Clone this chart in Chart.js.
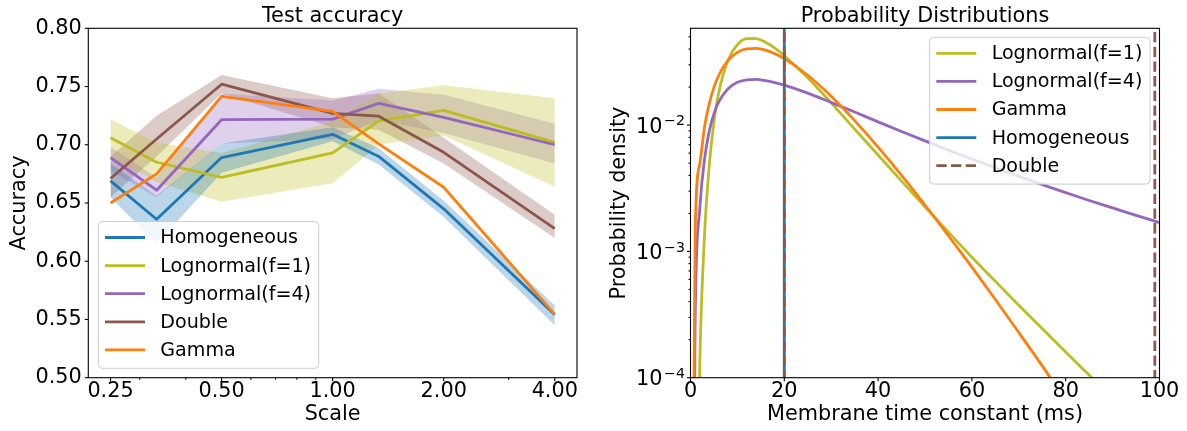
<!DOCTYPE html>
<html>
<head>
<meta charset="utf-8">
<script src="https://cdn.jsdelivr.net/npm/chart.js"></script>
<style>
html, body { margin: 0; padding: 0; background: #ffffff; }
#wrap { position: relative; width: 1187px; height: 431px; overflow: hidden; }
#c1 { position: absolute; left: 0; top: 0; width: 593px; height: 431px; }
#c2 { position: absolute; left: 593px; top: 0; width: 594px; height: 431px; }
</style>
</head>
<body>
<div id="wrap">
  <canvas id="c1" width="593" height="431"></canvas>
  <canvas id="c2" width="594" height="431"></canvas>
</div>
<script>
// ---------------- Left panel: Test accuracy ----------------
const scales = [0.25, 0.3333, 0.5, 1.0, 1.3333, 2.0, 4.0];
const homMean = [0.669, 0.636, 0.689, 0.709, 0.690, 0.645, 0.554];
const homLo   = [0.655, 0.615, 0.676, 0.703, 0.683, 0.638, 0.545];
const homHi   = [0.684, 0.656, 0.701, 0.715, 0.697, 0.652, 0.562];
const ln1Mean = [0.706, 0.685, 0.672, 0.693, 0.7205, 0.7295, 0.702];
const ln1Lo   = [0.690, 0.668, 0.651, 0.667, 0.700, 0.708, 0.664];
const ln1Hi   = [0.722, 0.702, 0.693, 0.720, 0.744, 0.751, 0.740];
const ln4Mean = [0.689, 0.661, 0.7215, 0.722, 0.7355, 0.7235, 0.700];
const ln4Lo   = [0.678, 0.655, 0.701, 0.705, 0.721, 0.710, 0.684];
const ln4Hi   = [0.698, 0.672, 0.744, 0.738, 0.748, 0.743, 0.718];
const dblMean = [0.671, 0.705, 0.752, 0.727, 0.7245, 0.6935, 0.628];
const dblLo   = [0.655, 0.690, 0.744, 0.715, 0.713, 0.684, 0.620];
const dblHi   = [0.690, 0.725, 0.760, 0.740, 0.744, 0.706, 0.640];
const gamMean = [0.650, 0.675, 0.7415, 0.7287, 0.7007, 0.6635, 0.5544];
const accTicks = [0.50, 0.55, 0.60, 0.65, 0.70, 0.75, 0.80];
const scaleTicks = [0.25, 0.5, 1, 2, 4];
const scaleMinorTicks = [0.3, 0.4, 0.6, 0.7, 0.8, 0.9, 3];
const leftTitle = 'Test accuracy';
const leftXLabel = 'Scale';
const leftYLabel = 'Accuracy';

// ---------------- Right panel: Probability Distributions ----------------
const tau = [0, 1, 2, 3, 4, 5, 6, 8, 10, 12, 14, 16, 18, 20, 25, 30, 35, 40, 45, 50, 55, 60, 65, 70, 75, 80, 85, 90, 95, 100];
const pdfLn1 = [1e-8, 9e-7, 1.4e-4, 1.37e-3, 4.8e-3, 1.06e-2, 1.79e-2, 3.26e-2, 4.33e-2, 4.83e-2, 4.84e-2, 4.52e-2, 4.06e-2, 3.54e-2, 2.37e-2, 1.5e-2, 9.3e-3, 5.8e-3, 3.6e-3, 2.25e-3, 1.42e-3, 9.0e-4, 5.8e-4, 3.75e-4, 2.45e-4, 1.6e-4, 1.05e-4, 7.0e-5, 4.7e-5, 3.2e-5];
const pdfLn4 = [1e-8, 3.0e-4, 2.23e-3, 5.4e-3, 8.95e-3, 1.23e-2, 1.52e-2, 1.94e-2, 2.18e-2, 2.28e-2, 2.30e-2, 2.25e-2, 2.17e-2, 2.07e-2, 1.79e-2, 1.51e-2, 1.27e-2, 1.06e-2, 8.9e-3, 7.5e-3, 6.34e-3, 5.38e-3, 4.59e-3, 3.93e-3, 3.38e-3, 2.92e-3, 2.53e-3, 2.21e-3, 1.93e-3, 1.69e-3];
const pdfGamma = [1e-8, 1.45e-3, 5.0e-3, 9.7e-3, 1.48e-2, 1.99e-2, 2.47e-2, 3.25e-2, 3.77e-2, 4.02e-2, 4.05e-2, 3.92e-2, 3.67e-2, 3.36e-2, 2.48e-2, 1.69e-2, 1.085e-2, 6.7e-3, 4.0e-3, 2.33e-3, 1.33e-3, 7.5e-4, 4.16e-4, 2.28e-4, 1.24e-4, 6.6e-5, 3.5e-5, 1.9e-5, 1.0e-5, 5.2e-6];
const homTau = [20];
const doubleTau = [20, 99];
const tauTicks = [0, 20, 40, 60, 80, 100];
const densTicks = [1e-4, 1e-3, 1e-2];
const densTickBase = '10';
const densTickExp = ['\u22124', '\u22123', '\u22122'];
const densMinorTicks = [2e-4, 3e-4, 4e-4, 5e-4, 6e-4, 7e-4, 8e-4, 9e-4, 2e-3, 3e-3, 4e-3, 5e-3, 6e-3, 7e-3, 8e-3, 9e-3, 2e-2, 3e-2, 4e-2, 5e-2];
const densRange = [1e-4, 0.0584];
const rightTitle = 'Probability Distributions';
const rightXLabel = 'Membrane time constant (ms)';
const rightYLabel = 'Probability density';

// ---------------- styling ----------------
const FONT = 'DejaVu Sans';
const FS = 20.8;
const SUP_FS = 14.2;
const LEG_FS = 19.1;
const LW = 2.78;
const C = { blue: '#1f77b4', olive: '#bcbd22', purple: '#9467bd', brown: '#8c564b', orange: '#ff7f0e' };
const A = { blue: 'rgba(31,119,180,0.3)', olive: 'rgba(188,189,34,0.3)', purple: 'rgba(148,103,189,0.3)', brown: 'rgba(140,86,75,0.3)' };

Chart.defaults.font.family = FONT;
Chart.defaults.color = '#000000';

const pts = (xs, ys) => xs.map((x, i) => ({ x: x, y: ys[i] }));

function lineDS(label, xs, ys, color, order, extra) {
  return Object.assign({
    label: label, data: pts(xs, ys), borderColor: color, backgroundColor: color,
    borderWidth: LW, pointRadius: 0, pointHoverRadius: 0, fill: false, tension: 0,
    borderJoinStyle: 'round', order: order
  }, extra || {});
}
function bandDS(xs, hi, lo, rgba) {
  return [
    { label: '_band', data: pts(xs, hi), borderColor: 'rgba(0,0,0,0)', borderWidth: 0, pointRadius: 0, backgroundColor: rgba, fill: '+1', tension: 0, order: 20 },
    { label: '_band', data: pts(xs, lo), borderColor: 'rgba(0,0,0,0)', borderWidth: 0, pointRadius: 0, backgroundColor: rgba, fill: false, tension: 0, order: 20 }
  ];
}

function roundRect(ctx, x, y, w, h, r) {
  ctx.beginPath();
  ctx.moveTo(x + r, y);
  ctx.lineTo(x + w - r, y);
  ctx.arcTo(x + w, y, x + w, y + r, r);
  ctx.lineTo(x + w, y + h - r);
  ctx.arcTo(x + w, y + h, x + w - r, y + h, r);
  ctx.lineTo(x + r, y + h);
  ctx.arcTo(x, y + h, x, y + h - r, r);
  ctx.lineTo(x, y + r);
  ctx.arcTo(x, y, x + r, y, r);
  ctx.closePath();
}

const decor = {
  id: 'decor',
  afterDraw(chart, args, o) {
    const ctx = chart.ctx, a = chart.chartArea;
    const xs = chart.scales.x, ys = chart.scales.y;
    ctx.save();
    ctx.strokeStyle = '#000000';
    ctx.lineWidth = 1.1;
    const tick = (scale, v, len, horiz) => {
      const p = scale.getPixelForValue(v);
      ctx.beginPath();
      if (horiz) { ctx.moveTo(p, a.bottom); ctx.lineTo(p, a.bottom + len); }
      else { ctx.moveTo(a.left, p); ctx.lineTo(a.left - len, p); }
      ctx.stroke();
    };
    (o.xMajor || []).forEach(v => tick(xs, v, 3.5, true));
    (o.xMinor || []).forEach(v => tick(xs, v, 2, true));
    (o.yMajor || []).forEach(v => tick(ys, v, 3.5, false));
    (o.yMinor || []).forEach(v => tick(ys, v, 2, false));
    ctx.strokeRect(a.left, a.top, a.right - a.left, a.bottom - a.top);

    // power-of-ten tick labels (base + superscript exponent)
    if (o.powLabels) {
      ctx.fillStyle = '#000000';
      ctx.textBaseline = 'alphabetic';
      ctx.textAlign = 'left';
      o.powLabels.values.forEach((v, i) => {
        const p = ys.getPixelForValue(v);
        const base = o.powLabels.base, ex = o.powLabels.exps[i];
        ctx.font = FS + 'px "' + FONT + '"';
        const wb = ctx.measureText(base).width;
        ctx.font = SUP_FS + 'px "' + FONT + '"';
        const we = ctx.measureText(ex).width;
        const x0 = a.left - 5.5 - we - wb - 1.5;
        const baseY = p + 7.6;
        ctx.font = FS + 'px "' + FONT + '"';
        ctx.fillText(base, x0, baseY);
        ctx.font = SUP_FS + 'px "' + FONT + '"';
        ctx.fillText(ex, x0 + wb + 1.5, baseY - 7.2);
      });
    }

    // title
    ctx.fillStyle = '#000000';
    ctx.font = FS + 'px "' + FONT + '"';
    ctx.textAlign = 'center';
    ctx.textBaseline = 'alphabetic';
    ctx.fillText(o.title, (a.left + a.right) / 2, 22);

    // legend
    const L = o.legend;
    ctx.font = LEG_FS + 'px "' + FONT + '"';
    let maxW = 0;
    L.items.forEach(it => { maxW = Math.max(maxW, ctx.measureText(it.label).width); });
    const w = 62 + maxW + 7.6;
    const h = 16 + (L.items.length - 1) * 28.1 + 18.4;
    let bx, by;
    if (L.corner === 'll') { bx = a.left + L.dx; by = a.bottom - L.dy - h; }
    else { bx = a.right - L.dx - w; by = a.top + L.dy; }
    roundRect(ctx, bx, by, w, h, 4);
    ctx.fillStyle = 'rgba(255,255,255,0.8)';
    ctx.fill();
    ctx.strokeStyle = '#cccccc';
    ctx.lineWidth = 1;
    ctx.stroke();
    L.items.forEach((it, i) => {
      const cy = by + 16 + i * 28.1;
      ctx.beginPath();
      ctx.strokeStyle = it.color;
      ctx.lineWidth = LW;
      ctx.setLineDash(it.dash || []);
      ctx.moveTo(bx + 6.7, cy);
      ctx.lineTo(bx + 46.7, cy);
      ctx.stroke();
      ctx.setLineDash([]);
      ctx.fillStyle = '#000000';
      ctx.textAlign = 'left';
      ctx.textBaseline = 'middle';
      ctx.fillText(it.label, bx + 62, cy + 1);
    });
    ctx.restore();
  }
};

const tickFont = { family: FONT, size: FS };

// ---------------- Left chart ----------------
const leftSets = [];
leftSets.push(lineDS('Homogeneous', scales, homMean, C.blue, 5));
leftSets.push(lineDS('Lognormal(f=1)', scales, ln1Mean, C.olive, 4));
leftSets.push(lineDS('Lognormal(f=4)', scales, ln4Mean, C.purple, 3));
leftSets.push(lineDS('Double', scales, dblMean, C.brown, 2));
leftSets.push(lineDS('Gamma', scales, gamMean, C.orange, 1));
leftSets.push(...bandDS(scales, homHi, homLo, A.blue));
leftSets.push(...bandDS(scales, ln1Hi, ln1Lo, A.olive));
leftSets.push(...bandDS(scales, ln4Hi, ln4Lo, A.purple));
leftSets.push(...bandDS(scales, dblHi, dblLo, A.brown));

new Chart(document.getElementById('c1'), {
  type: 'line',
  data: { datasets: leftSets },
  plugins: [decor],
  options: {
    responsive: false, animation: false, events: [],
    layout: { padding: { left: 0, top: 28.3, right: 16, bottom: 0 } },
    plugins: {
      legend: { display: false }, tooltip: { enabled: false }, title: { display: false },
      filler: { propagate: false, drawTime: 'beforeDatasetsDraw' },
      decor: {
        title: leftTitle,
        xMajor: scaleTicks, xMinor: scaleMinorTicks, yMajor: accTicks, yMinor: [],
        legend: {
          corner: 'll', dx: 10, dy: 9.4,
          items: [
            { label: 'Homogeneous', color: C.blue },
            { label: 'Lognormal(f=1)', color: C.olive },
            { label: 'Lognormal(f=4)', color: C.purple },
            { label: 'Double', color: C.brown },
            { label: 'Gamma', color: C.orange }
          ]
        }
      }
    },
    scales: {
      x: {
        type: 'logarithmic', min: 0.2176, max: 4.595,
        grid: { display: false, drawTicks: false }, border: { display: false },
        afterBuildTicks: (s) => { s.ticks = scaleTicks.map(v => ({ value: v })); },
        afterFit: (s) => { s.height = 53.3; },
        ticks: { autoSkip: false, maxRotation: 0, minRotation: 0, padding: 1.6, font: tickFont, color: '#000',
                 callback: (v) => Number(v).toFixed(2) },
        title: { display: true, text: leftXLabel, font: tickFont, color: '#000', padding: { top: 0, bottom: 3.7 } }
      },
      y: {
        type: 'linear', min: 0.5, max: 0.8,
        grid: { display: false, drawTicks: false }, border: { display: false },
        afterBuildTicks: (s) => { s.ticks = accTicks.map(v => ({ value: v })); },
        afterFit: (s) => { s.width = 88.3; },
        ticks: { autoSkip: false, padding: 6.6, font: tickFont, color: '#000',
                 callback: (v) => Number(v).toFixed(2) },
        title: { display: true, text: leftYLabel, font: tickFont, color: '#000', padding: { top: 7.2, bottom: 0 } }
      }
    }
  }
});

// ---------------- Right chart ----------------
const rightSets = [];
rightSets.push(lineDS('Lognormal(f=1)', tau, pdfLn1, C.olive, 5, { cubicInterpolationMode: 'monotone' }));
rightSets.push(lineDS('Lognormal(f=4)', tau, pdfLn4, C.purple, 4, { cubicInterpolationMode: 'monotone' }));
rightSets.push(lineDS('Gamma', tau, pdfGamma, C.orange, 3, { cubicInterpolationMode: 'monotone' }));
rightSets.push(lineDS('Homogeneous', [homTau[0], homTau[0]], [1e-6, 1], C.blue, 2));
rightSets.push(lineDS('Double', [doubleTau[0], doubleTau[0]], [1e-6, 1], C.brown, 1, { borderDash: [10.3, 4.4] }));
rightSets.push(lineDS('Double', [doubleTau[1], doubleTau[1]], [1e-6, 1], C.brown, 1, { borderDash: [10.3, 4.4] }));

new Chart(document.getElementById('c2'), {
  type: 'line',
  data: { datasets: rightSets },
  plugins: [decor],
  options: {
    responsive: false, animation: false, events: [],
    layout: { padding: { left: 0, top: 28.3, right: 27.5, bottom: 0 } },
    plugins: {
      legend: { display: false }, tooltip: { enabled: false }, title: { display: false },
      decor: {
        title: rightTitle,
        xMajor: tauTicks, xMinor: [], yMajor: densTicks, yMinor: densMinorTicks,
        powLabels: { values: densTicks, base: densTickBase, exps: densTickExp },
        legend: {
          corner: 'ur', dx: 9.5, dy: 9,
          items: [
            { label: 'Lognormal(f=1)', color: C.olive },
            { label: 'Lognormal(f=4)', color: C.purple },
            { label: 'Gamma', color: C.orange },
            { label: 'Homogeneous', color: C.blue },
            { label: 'Double', color: C.brown, dash: [10.3, 4.4] }
          ]
        }
      }
    },
    scales: {
      x: {
        type: 'linear', min: 0, max: 100,
        grid: { display: false, drawTicks: false }, border: { display: false },
        afterBuildTicks: (s) => { s.ticks = tauTicks.map(v => ({ value: v })); },
        afterFit: (s) => { s.height = 53.3; },
        ticks: { autoSkip: false, maxRotation: 0, minRotation: 0, padding: 1.6, font: tickFont, color: '#000',
                 callback: (v) => String(v) },
        title: { display: true, text: rightXLabel, font: tickFont, color: '#000', padding: { top: 0, bottom: 3.7 } }
      },
      y: {
        type: 'logarithmic', min: densRange[0], max: densRange[1],
        grid: { display: false, drawTicks: false }, border: { display: false },
        afterBuildTicks: (s) => { s.ticks = densTicks.map(v => ({ value: v })); },
        afterFit: (s) => { s.width = 97.5; },
        ticks: { autoSkip: false, padding: 5.5, font: tickFont, color: '#000',
                 callback: () => '' },
        title: { display: true, text: rightYLabel, font: tickFont, color: '#000', padding: { top: 14.2, bottom: 0 } }
      }
    }
  }
});
</script>
</body>
</html>
